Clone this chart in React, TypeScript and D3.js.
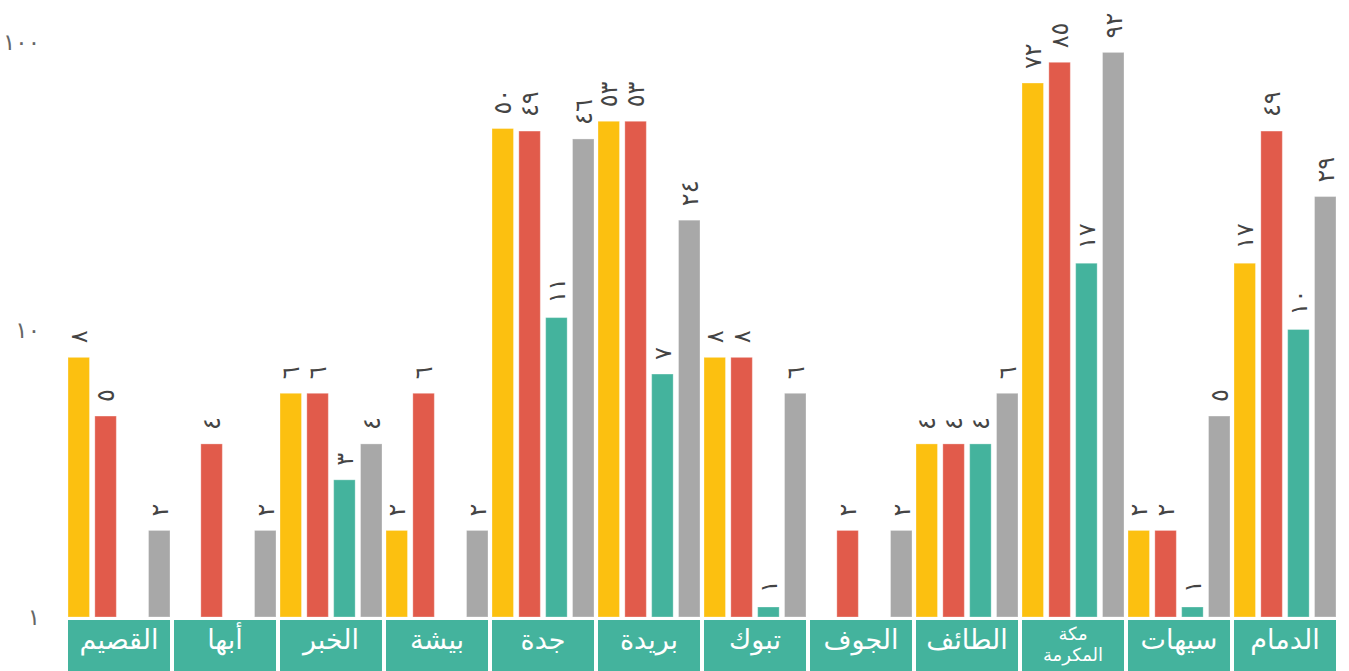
import React from "react";
import * as d3 from "d3";

const categories = ["القصيم", "أبها", "الخبر", "بيشة", "جدة", "بريدة", "تبوك", "الجوف", "الطائف", "مكة المكرمة", "سيهات", "الدمام"];
const seriesYellow = [8, null, 6, 2, 50, 53, 8, null, 4, 72, 2, 17];
const seriesRed = [5, 4, 6, 6, 49, 53, 8, 2, 4, 85, 2, 49];
const seriesTeal = [null, null, 3, null, 11, 7, 1, null, 4, 17, 1, 10];
const seriesGray = [2, 2, 4, 2, 46, 24, 6, 2, 6, 92, 5, 29];
const yTicks = [1, 10, 100];

const seriesList = [
  { key: "yellow", values: seriesYellow, color: "#FCC010" },
  { key: "red", values: seriesRed, color: "#E15B4B" },
  { key: "teal", values: seriesTeal, color: "#44B39D" },
  { key: "gray", values: seriesGray, color: "#A8A8A8" },
];

const W = 1349;
const H = 671;
const FONT = "'DejaVu Sans', sans-serif";

const toArabic = (n: number) => String(n).replace(/[0-9]/g, (d) => "٠١٢٣٤٥٦٧٨٩"[+d]);

export default function App() {
  const x0 = d3.scaleBand<string>().domain(categories).range([66, 1338]).paddingInner(4 / 106).paddingOuter(2 / 106);
  const x1 = d3.scaleBand<string>().domain(seriesList.map((s) => s.key)).range([0, x0.bandwidth()]).paddingInner(0.2).paddingOuter(0);
  const y = d3.scaleLog().domain([1, 100]).range([617, 42]);
  const base = y(1);
  const minH = 10;

  return (
    <svg width={W} height={H} style={{ position: "absolute", left: 0, top: 0, background: "#fff" }}>
      {yTicks.map((t) => (
        <text key={t} x={40} y={y(t)} dy="0.35em" textAnchor="end" fontFamily={FONT} fontSize={23} letterSpacing={-3} fill="#666">
          {toArabic(t)}
        </text>
      ))}
      {categories.map((c, i) => {
        const gx = x0(c)!;
        const lines = c === "مكة المكرمة" ? ["مكة", "المكرمة"] : [c];
        return (
          <g key={c}>
            <rect x={gx} y={620} width={x0.bandwidth()} height={60} fill="#44B39D" />
            {lines.length === 1 ? (
              <text x={gx + x0.bandwidth() / 2} y={640} dy="0.35em" textAnchor="middle" fontFamily={FONT} fontSize={27} fill="#fff" direction="rtl">
                {c}
              </text>
            ) : (
              lines.map((l, k) => (
                <text key={k} x={gx + x0.bandwidth() / 2} y={634 + k * 21} dy="0.35em" textAnchor="middle" fontFamily={FONT} fontSize={18} fill="#fff" direction="rtl">
                  {l}
                </text>
              ))
            )}
            {seriesList.map((s) => {
              const v = s.values[i];
              if (v == null) return null;
              const bx = gx + x1(s.key)!;
              const bw = x1.bandwidth();
              const h = Math.max(base - y(v), minH);
              const top = base - h;
              return (
                <g key={s.key}>
                  <rect x={bx} y={top} width={bw} height={h} fill={s.color} stroke="#fff" strokeOpacity={0.3} strokeWidth={1} />
                  <text
                    transform={`translate(${bx + bw / 2},${top - 14}) rotate(-90)`}
                    dy="0.35em"
                    textAnchor="start"
                    fontFamily={FONT}
                    fontSize={24}
                    fill="#444"
                  >
                    {toArabic(v)}
                  </text>
                </g>
              );
            })}
          </g>
        );
      })}
    </svg>
  );
}
